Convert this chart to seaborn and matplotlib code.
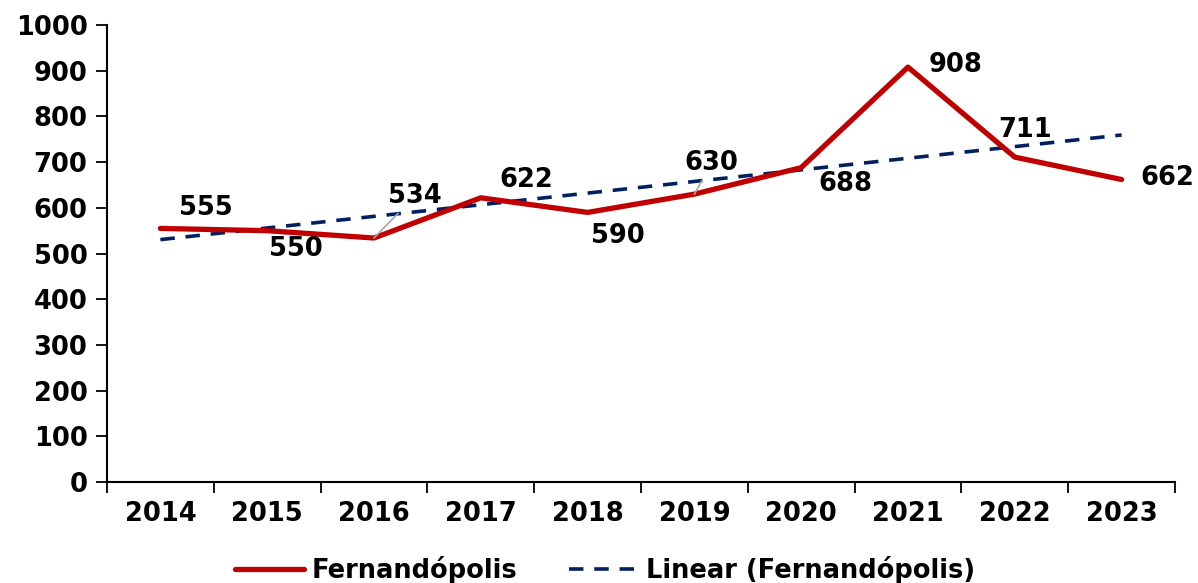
import numpy as np
import pandas as pd
import matplotlib
matplotlib.use("Agg")
import matplotlib.pyplot as plt
from matplotlib.lines import Line2D
import seaborn as sns

years = ["2014", "2015", "2016", "2017", "2018", "2019", "2020", "2021", "2022", "2023"]
values = [555, 550, 534, 622, 590, 630, 688, 908, 711, 662]
# label offsets in pixels (dx, dy) from each point
label_offsets = [(45, 20), (29, -18), (41, 42), (45, 18), (30, -24),
                 (17, 31), (44, -16), (48, 2), (10, 27), (46, 2)]
leader = [False, False, True, False, False, True, False, False, False, False]

df = pd.DataFrame({"pos": np.arange(len(years)), "value": values, "year": years})

sns.set_style("white")
plt.rcParams["font.family"] = ["DejaVu Sans"]
plt.rcParams["font.weight"] = "bold"
plt.rcParams["text.color"] = "black"
plt.rcParams["xtick.color"] = "black"
plt.rcParams["ytick.color"] = "black"

fs = 18.5

fig = plt.figure(figsize=(11.98, 5.83), dpi=100)
ax = fig.add_axes([0.0893, 0.1732, 0.8915, 0.7838])

red = "#C00000"
navy = "#002060"

sns.regplot(data=df, x="pos", y="value", ax=ax, ci=None, scatter=False, truncate=True,
            line_kws=dict(color=navy, lw=2.6, ls=(0, (4, 3))))
sns.lineplot(data=df, x="pos", y="value", ax=ax, color=red, lw=3.8)

for i, (v, (dx, dy)) in enumerate(zip(values, label_offsets)):
    kw = {}
    if leader[i]:
        kw["arrowprops"] = dict(arrowstyle="-", color="#A6A6A6", lw=1.2, shrinkA=1, shrinkB=0)
    ax.annotate(str(v), xy=(i, v), xytext=(dx, dy), textcoords="offset pixels",
                ha="center", va="center", fontsize=fs, fontweight="bold", color="black", **kw)

ax.set_xlim(-0.5, len(years) - 0.5)
ax.set_ylim(0, 1000)
ax.set_yticks(range(0, 1001, 100))
ax.set_xticks(np.arange(-0.5, len(years), 1.0))
ax.set_xticklabels([])
ax.set_xticks(df["pos"], minor=True)
ax.set_xticklabels(years, minor=True)
ax.tick_params(axis="x", which="major", direction="out", length=8, width=1.3, color="black", bottom=True)
ax.tick_params(axis="x", which="minor", length=0, pad=14, labelsize=fs, labelcolor="black")
ax.tick_params(axis="y", direction="out", length=8, width=1.3, color="black", left=True,
               labelsize=fs, labelcolor="black", pad=6)
for lab in ax.get_xticklabels(minor=True) + ax.get_yticklabels():
    lab.set_fontweight("bold")
ax.set_xlabel("")
ax.set_ylabel("")
for s in ["top", "right"]:
    ax.spines[s].set_visible(False)
for s in ["left", "bottom"]:
    ax.spines[s].set_color("black")
    ax.spines[s].set_linewidth(1.5)

handles = [Line2D([], [], color=red, lw=3.8),
           Line2D([], [], color=navy, lw=2.6, ls=(0, (4, 3)))]
fig.legend(handles, ["Fernandópolis", "Linear (Fernandópolis)"], loc="center",
           bbox_to_anchor=(0.505, 0.022), ncol=2, frameon=False, handlelength=2.7,
           columnspacing=2.0, handletextpad=0.3, labelcolor="black",
           prop=dict(size=fs, weight="bold"))

fig.savefig("out.png", dpi=100)
